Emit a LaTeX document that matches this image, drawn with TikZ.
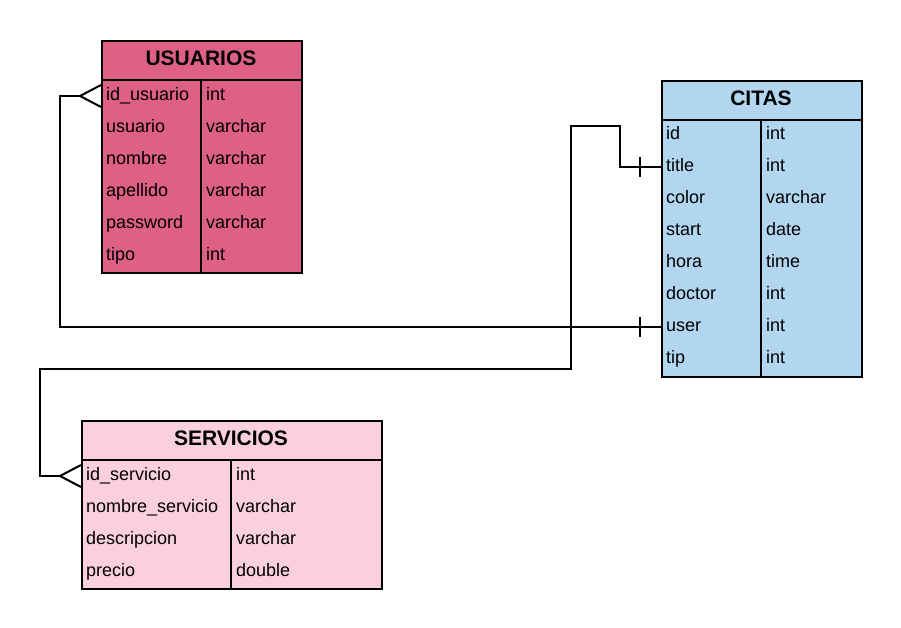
\documentclass[tikz,border=0pt]{standalone}
\usepackage{fontspec}
\setmainfont{Liberation Sans}
\definecolor{usucol}{HTML}{DF6087}
\definecolor{sercol}{HTML}{F9D0DC}
\definecolor{citcol}{HTML}{B2D5F0}
\tikzset{
  tbl/.style={draw=black, line width=2pt, rectangle, inner sep=0pt, anchor=north west},
  hdr/.style={font=\fontsize{21}{24}\selectfont\bfseries, inner sep=0pt, text height=15pt, text depth=0pt},
  cell/.style={font=\fontsize{18}{20}\selectfont, anchor=west, text width=90pt, align=left, inner xsep=5pt, inner ysep=0pt, text height=13pt, text depth=4pt},
  tcell/.style={cell, text width=90pt},
  rule/.style={draw=black, line width=2pt},
  conn/.style={draw=black, line width=2pt},
}
\begin{document}
\begin{tikzpicture}[x=1pt,y=-1pt]
\useasboundingbox (0,0) rectangle (901,628);
% USUARIOS
\node[tbl, fill=usucol, minimum width=200pt, minimum height=232pt] (usu) at (101,40) {};
\node[hdr] (usuh) at (201,58) {USUARIOS};
\draw[rule] (101,80) -- (301,80);
\draw[rule] (201,80) -- (201,272);
\node[cell] (u1) at (101,96) {id\_usuario};
\node[cell] (u2) at (101,128) {usuario};
\node[cell] (u3) at (101,160) {nombre};
\node[cell] (u4) at (101,192) {apellido};
\node[cell] (u5) at (101,224) {password};
\node[cell] (u6) at (101,256) {tipo};
\node[tcell] (ut1) at (201,96) {int};
\node[tcell] (ut2) at (201,128) {varchar};
\node[tcell] (ut3) at (201,160) {varchar};
\node[tcell] (ut4) at (201,192) {varchar};
\node[tcell] (ut5) at (201,224) {varchar};
\node[tcell] (ut6) at (201,256) {int};
% CITAS
\node[tbl, fill=citcol, minimum width=200pt, minimum height=296pt] (cit) at (661,80) {};
\node[hdr] (cith) at (761,98) {CITAS};
\draw[rule] (661,120) -- (861,120);
\draw[rule] (761,120) -- (761,376);
\node[cell] (c1) at (661,135) {id};
\node[cell] (c2) at (661,167) {title};
\node[cell] (c3) at (661,199) {color};
\node[cell] (c4) at (661,231) {start};
\node[cell] (c5) at (661,263) {hora};
\node[cell] (c6) at (661,295) {doctor};
\node[cell] (c7) at (661,327) {user};
\node[cell] (c8) at (661,359) {tip};
\node[tcell] (ct1) at (761,135) {int};
\node[tcell] (ct2) at (761,167) {int};
\node[tcell] (ct3) at (761,199) {varchar};
\node[tcell] (ct4) at (761,231) {date};
\node[tcell] (ct5) at (761,263) {time};
\node[tcell] (ct6) at (761,295) {int};
\node[tcell] (ct7) at (761,327) {int};
\node[tcell] (ct8) at (761,359) {int};
% SERVICIOS
\node[tbl, fill=sercol, minimum width=300pt, minimum height=168pt] (ser) at (81,420) {};
\node[hdr] (serh) at (231,438) {SERVICIOS};
\draw[rule] (81,460) -- (381,460);
\draw[rule] (231,460) -- (231,588);
\node[cell, text width=140pt] (s1) at (81,476) {id\_servicio};
\node[cell, text width=140pt] (s2) at (81,508) {nombre\_servicio};
\node[cell, text width=140pt] (s3) at (81,540) {descripcion};
\node[cell, text width=140pt] (s4) at (81,572) {precio};
\node[tcell, text width=140pt] (st1) at (231,476) {int};
\node[tcell, text width=140pt] (st2) at (231,508) {varchar};
\node[tcell, text width=140pt] (st3) at (231,540) {varchar};
\node[tcell, text width=140pt] (st4) at (231,572) {double};
% connector user -> id_usuario
\draw[conn] (c7.west) -- ++(-601,0) |- ([xshift=-21pt]u1.west);
\draw[conn] ([yshift=-11pt]u1.west) -- ([xshift=-21pt]u1.west) -- ([yshift=11pt]u1.west);
\draw[conn] ([xshift=-21pt,yshift=10pt]c7.west) -- ([xshift=-21pt,yshift=-10pt]c7.west);
% connector title -> id_servicio
\draw[conn] (c2.west) -- ++(-41,0) -- ++(0,-41) -- ++(-49,0) -- ++(0,243) -- ++(-531,0) |- ([xshift=-21pt]s1.west);
\draw[conn] ([yshift=-11pt]s1.west) -- ([xshift=-21pt]s1.west) -- ([yshift=11pt]s1.west);
\draw[conn] ([xshift=-21pt,yshift=10pt]c2.west) -- ([xshift=-21pt,yshift=-10pt]c2.west);
\end{tikzpicture}
\end{document}
